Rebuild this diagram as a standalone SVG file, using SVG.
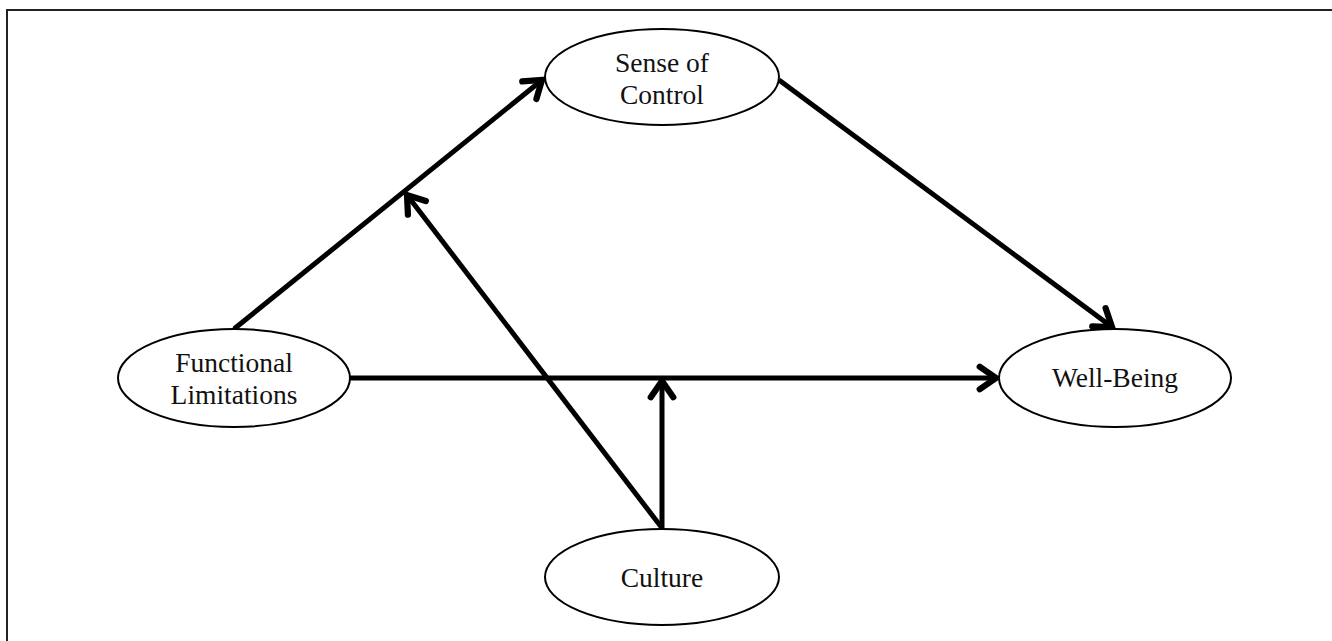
<svg xmlns="http://www.w3.org/2000/svg" width="1332" height="641" viewBox="0 0 1332 641">
<style>
.node ellipse{fill:#fff;stroke:#000;stroke-width:2}
.node text{font-family:"Liberation Serif","Times New Roman",serif;font-size:27.5px;fill:#111;text-anchor:middle}
.edges line{stroke:#000;stroke-width:5;marker-end:url(#arr)}
</style>
<defs>
<marker id="arr" markerUnits="userSpaceOnUse" markerWidth="30" markerHeight="30" viewBox="-16 -12 20 24" refX="0" refY="0" orient="auto">
<path d="M-13,-9 L0,0 L-13,9" fill="none" stroke="#000" stroke-width="5" stroke-linecap="round" stroke-linejoin="miter"/>
</marker>
</defs>
<rect width="1332" height="641" fill="#fff"/>
<path d="M7,641 V10 H1332" fill="none" stroke="#222" stroke-width="2"/>
<g class="edges">
<line x1="234" y1="329" x2="542" y2="80"/>
<line x1="779" y1="80" x2="1112" y2="327"/>
<line x1="350" y1="378" x2="996" y2="378"/>
<line x1="662" y1="528" x2="662" y2="381"/>
<line x1="662" y1="528" x2="407" y2="195"/>
</g>
<g id="sense-of-control" class="node">
<ellipse cx="662" cy="77" rx="117" ry="48"/>
<text x="662" y="72">Sense of</text>
<text x="662" y="104">Control</text>
</g>
<g id="functional-limitations" class="node">
<ellipse cx="234" cy="378" rx="116" ry="49"/>
<text x="234" y="372">Functional</text>
<text x="234" y="404">Limitations</text>
</g>
<g id="well-being" class="node">
<ellipse cx="1115" cy="378" rx="116" ry="49"/>
<text x="1115" y="387">Well-Being</text>
</g>
<g id="culture" class="node">
<ellipse cx="662" cy="577" rx="117" ry="48"/>
<text x="662" y="587">Culture</text>
</g>
</svg>
